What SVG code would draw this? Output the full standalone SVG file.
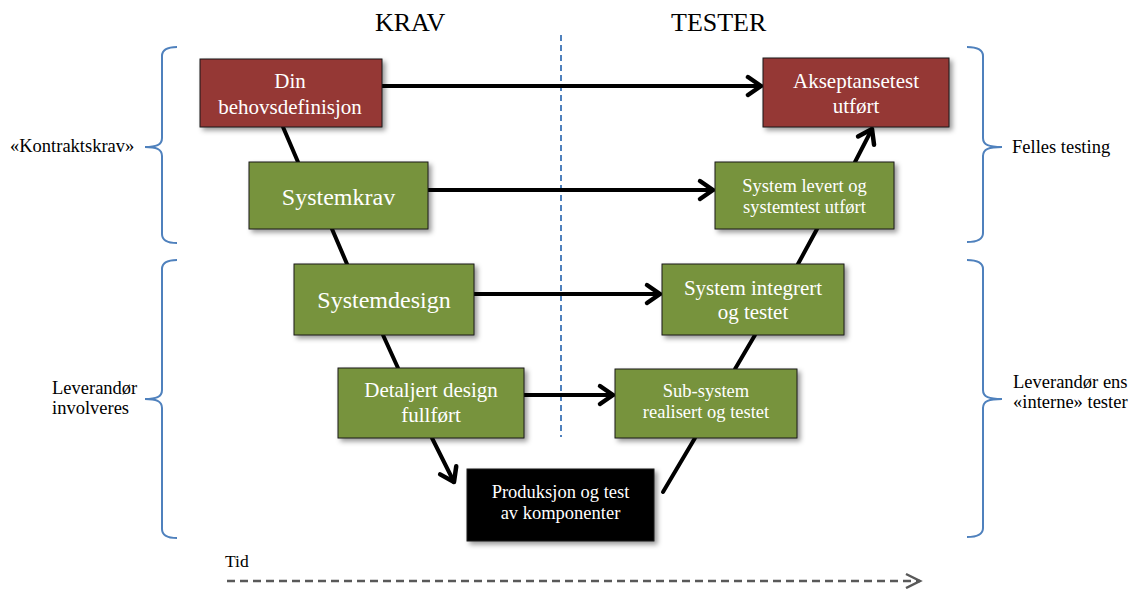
<svg xmlns="http://www.w3.org/2000/svg" width="1131" height="589" viewBox="0 0 1131 589">
<style>
text{font-family:"Liberation Serif","Times New Roman",serif;}
.box{stroke:#1a1a1a;stroke-width:1;filter:url(#sh);}
.red{fill:#953735;}
.green{fill:#77933C;}
.black{fill:#000;}
.bt{fill:#fff;text-anchor:middle;}
.lbl{fill:#000;font-size:18.5px;}
.title{fill:#000;font-size:26px;}
.conn{stroke:#000;stroke-width:4;fill:none;stroke-linecap:round;}
.brace{stroke:#4F81BD;stroke-width:2;fill:none;}
</style>
<defs>
<filter id="sh" x="-10%" y="-10%" width="130%" height="140%">
<feDropShadow dx="3" dy="3" stdDeviation="2.5" flood-color="#000" flood-opacity="0.4"/>
</filter>
<marker id="arr" markerUnits="userSpaceOnUse" markerWidth="30" markerHeight="30" viewBox="-20 -15 30 30" refX="0" refY="0" orient="auto" overflow="visible">
<path d="M-13,-9 L0,0 L-13,9" fill="none" stroke="#000" stroke-width="4.5" stroke-linecap="round" stroke-linejoin="round"/>
</marker>
<marker id="garr" markerUnits="userSpaceOnUse" markerWidth="30" markerHeight="30" viewBox="-20 -15 30 30" refX="0" refY="0" orient="auto" overflow="visible">
<path d="M-14,-7 L0,0 L-14,7" fill="none" stroke="#595959" stroke-width="2.5"/>
</marker>
</defs>
<rect width="1131" height="589" fill="#fff"/>

<g id="titles">
<text class="title" x="375" y="31">KRAV</text>
<text class="title" x="671" y="31">TESTER</text>
</g>

<g id="divider">
<line x1="561" y1="35" x2="561" y2="437" stroke="#4F81BD" stroke-width="2" stroke-dasharray="6,4"/>
</g>

<g id="braces">
<path class="brace" d="M177,47 C168,47 162,49 162,56 L162,138 C162,145 156,147 145,147 C156,147 162,149 162,156 L162,234 C162,241 168,243 177,243"/>
<path class="brace" d="M177,260 C168,260 162,262 162,269 L162,390 C162,397 156,399 145,399 C156,399 162,401 162,408 L162,529 C162,536 168,538 177,538"/>
<path class="brace" d="M967,47 C976,47 983,49 983,56 L983,138 C983,145 989,147 1002,147 C989,147 983,149 983,156 L983,233 C983,240 976,242 967,242"/>
<path class="brace" d="M967,260 C976,260 983,262 983,269 L983,390 C983,397 989,399 1002,399 C989,399 983,401 983,408 L983,528 C983,535 976,537 967,537"/>
</g>

<g id="side-labels">
<text class="lbl" x="10" y="152">«Kontraktskrav»</text>
<text class="lbl" x="52" y="394">Leverandør</text>
<text class="lbl" x="52" y="414">involveres</text>
<text class="lbl" x="1012" y="153">Felles testing</text>
<text class="lbl" x="1013" y="388">Leverandør ens</text>
<text class="lbl" x="1013" y="408">«interne» tester</text>
</g>

<g id="connectors">
<line class="conn" x1="382" y1="86" x2="761" y2="86" marker-end="url(#arr)"/>
<line class="conn" x1="428" y1="190" x2="713" y2="190" marker-end="url(#arr)"/>
<line class="conn" x1="474" y1="294" x2="660" y2="294" marker-end="url(#arr)"/>
<line class="conn" x1="524" y1="395" x2="613" y2="395" marker-end="url(#arr)"/>
<line class="conn" x1="283" y1="127" x2="298" y2="162"/>
<line class="conn" x1="332" y1="229" x2="347" y2="264"/>
<line class="conn" x1="383" y1="335" x2="398" y2="368"/>
<line class="conn" x1="432" y1="438" x2="454" y2="482" marker-end="url(#arr)"/>
<line class="conn" x1="663" y1="492" x2="695" y2="438"/>
<line class="conn" x1="735" y1="369" x2="755" y2="335"/>
<line class="conn" x1="798" y1="264" x2="817" y2="229"/>
<line class="conn" x1="855" y1="162" x2="872" y2="129" marker-end="url(#arr)"/>
</g>

<g id="n-behov">
<rect class="box red" x="200" y="59" width="182" height="68"/>
<text class="bt" x="290" y="88" font-size="21">Din</text>
<text class="bt" x="290" y="114" font-size="21">behovsdefinisjon</text>
</g>
<g id="n-systemkrav">
<rect class="box green" x="249" y="162" width="179" height="67"/>
<text class="bt" x="338.5" y="205" font-size="24">Systemkrav</text>
</g>
<g id="n-systemdesign">
<rect class="box green" x="294" y="264" width="180" height="71"/>
<text class="bt" x="384" y="308" font-size="24">Systemdesign</text>
</g>
<g id="n-detaljert">
<rect class="box green" x="338" y="368" width="186" height="70"/>
<text class="bt" x="431" y="397" font-size="21">Detaljert design</text>
<text class="bt" x="431" y="422" font-size="21">fullført</text>
</g>
<g id="n-produksjon">
<rect class="box black" x="467" y="469" width="187" height="72"/>
<text class="bt" x="560.5" y="498" font-size="18.5">Produksjon og test</text>
<text class="bt" x="560.5" y="519" font-size="18.5">av komponenter</text>
</g>
<g id="n-subsystem">
<rect class="box green" x="615" y="369" width="182" height="69"/>
<text class="bt" x="706" y="397" font-size="18.5">Sub-system</text>
<text class="bt" x="706" y="418" font-size="18.5">realisert og testet</text>
</g>
<g id="n-integrert">
<rect class="box green" x="662" y="264" width="182" height="71"/>
<text class="bt" x="753" y="295" font-size="21">System integrert</text>
<text class="bt" x="753" y="319" font-size="21">og testet</text>
</g>
<g id="n-levert">
<rect class="box green" x="715" y="162" width="179" height="67"/>
<text class="bt" x="804.5" y="192" font-size="18.5">System levert og</text>
<text class="bt" x="804.5" y="213" font-size="18.5">systemtest utført</text>
</g>
<g id="n-akseptanse">
<rect class="box red" x="763" y="58" width="186" height="69"/>
<text class="bt" x="856" y="88" font-size="21">Akseptansetest</text>
<text class="bt" x="856" y="113" font-size="21">utført</text>
</g>

<g id="time-axis">
<text x="225" y="567" font-size="17.5" fill="#000">Tid</text>
<line x1="227" y1="581" x2="920" y2="581" stroke="#595959" stroke-width="2.5" stroke-dasharray="8,5" marker-end="url(#garr)"/>
</g>
</svg>
